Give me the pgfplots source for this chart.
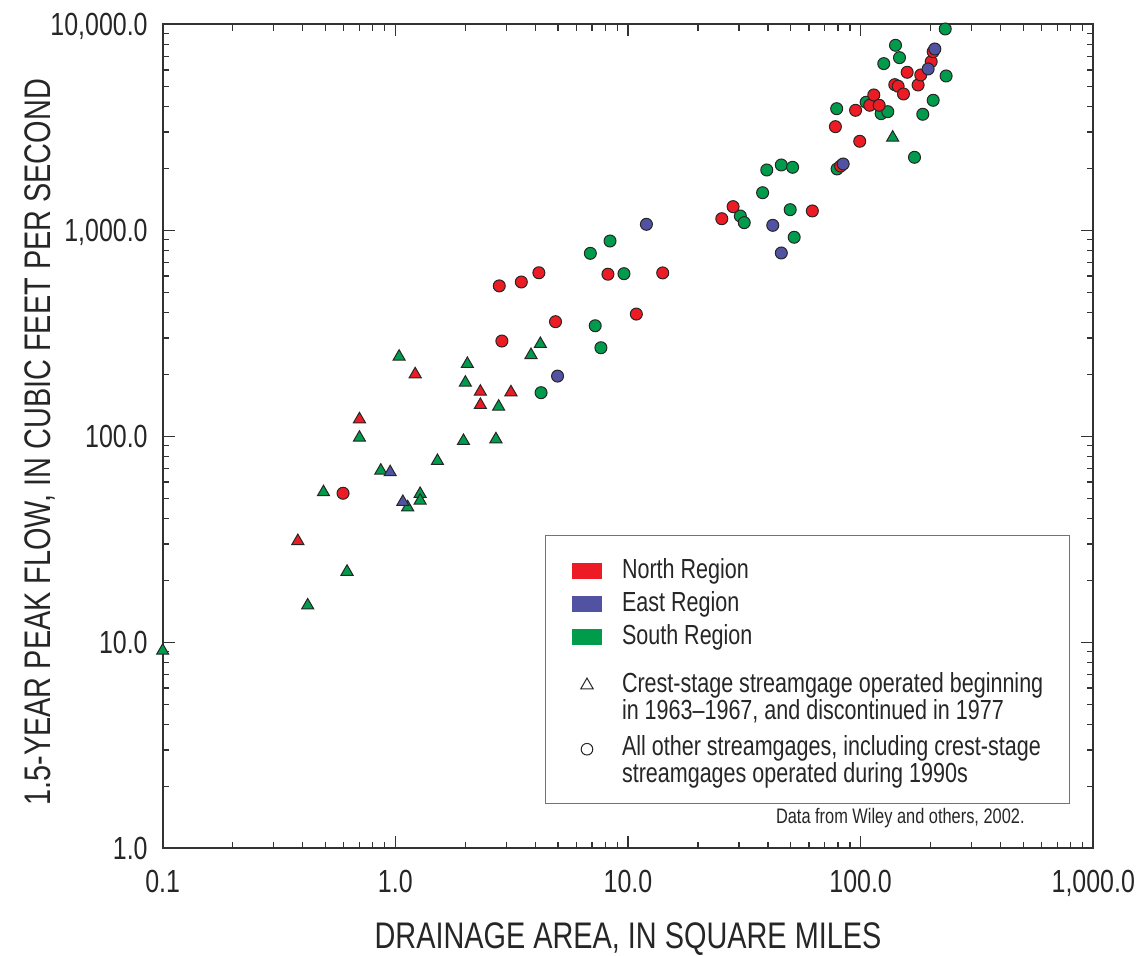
\documentclass[border=0pt]{standalone}
\usepackage{fontspec}
\setmainfont{Liberation Sans}[FakeStretch=0.78]
\usepackage{pgfplots}
\pgfplotsset{compat=1.18}

\definecolor{north}{RGB}{237,28,36}
\definecolor{east}{RGB}{82,82,162}
\definecolor{south}{RGB}{0,155,75}
\definecolor{axisgray}{RGB}{50,50,50}

\newcommand\tickfont{\fontsize{16}{18}\selectfont}
\newcommand\labfont{\fontsize{18.5}{22}\selectfont}
\newcommand\legfont{\fontsize{13.8}{13.5}\selectfont}

\pgfplotsset{
  circ/.style={only marks, mark=*, mark size=3pt,
    mark options={fill=#1, draw=black!85, line width=0.5pt}},
  tri/.style={only marks, mark=triangle*, mark size=3.5pt,
    mark options={fill=#1, draw=black!85, line width=0.5pt}},
}

\begin{document}
\begin{tikzpicture}
\begin{axis}[
  scale only axis, width=465.3pt, height=412pt,
  xmode=log, ymode=log,
  xmin=0.1, xmax=1000, ymin=1, ymax=10000,
  xtick={0.1,1,10,100,1000},
  xticklabels={0.1,1.0,10.0,100.0,{1,000.0}},
  ytick={1,10,100,1000,10000},
  yticklabels={1.0,10.0,100.0,{1,000.0},{10,000.0}},
  minor xtick={0.2,0.3,0.4,0.5,0.6,0.7,0.8,0.9,2,3,4,5,6,7,8,9,20,30,40,50,60,70,80,90,200,300,400,500,600,700,800,900},
  minor ytick={2,3,4,5,6,7,8,9,20,30,40,50,60,70,80,90,200,300,400,500,600,700,800,900,2000,3000,4000,5000,6000,7000,8000,9000},
  tick align=inside, major tick length=6pt, minor tick length=3.3pt,
  axis line style={axisgray, line width=1pt},
  every tick/.style={axisgray, line width=0.65pt},
  tick label style={font=\tickfont, text=black!85},
  xticklabel style={anchor=base, inner sep=0pt, yshift=-22.35pt},
  yticklabel style={anchor=base east, inner sep=0pt, xshift=-7.35pt, yshift=-5.73pt},
  label style={font=\labfont, text=black!85},
  xlabel={DRAINAGE AREA, IN SQUARE MILES},
  ylabel={1.5-YEAR PEAK FLOW, IN CUBIC FEET PER SECOND},
  xlabel style={at={(axis description cs:0.5,-0.1222)}, anchor=base, inner sep=0pt},
  ylabel style={at={(axis description cs:-0.1211,0.4927)}, anchor=base, inner sep=0pt},
  legend style={at={(0.4104,0.3807)}, anchor=north west, draw=black!55,
    line width=0.6pt, fill=white, inner xsep=13.3pt, inner ysep=6.5pt,
    row sep=2.6pt, column sep=10pt, font=\legfont, text=black!85,
    nodes={inner sep=0pt, text depth=}, cells={anchor=west, align=left}},
]
% legend entries
\addlegendimage{legend image code/.code={\fill[north] (0pt,-5.45pt) rectangle (14.5pt,1.85pt);}}
\addlegendentry{\rule{0pt}{15.05pt}North Region\strut}
\addlegendimage{legend image code/.code={\fill[east] (0pt,-2.65pt) rectangle (14.5pt,4.65pt);}}
\addlegendentry{East Region\strut}
\addlegendimage{legend image code/.code={\fill[south] (0pt,-2.65pt) rectangle (14.5pt,4.65pt);}}
\addlegendentry{South Region\strut}
\addlegendimage{only marks, mark=triangle, mark size=3.6pt,
  mark options={draw=black!85, line width=0.5pt, xshift=-1.25pt, yshift=3.8pt}}
\addlegendentry{\rule{0pt}{17.15pt}Crest-stage streamgage operated beginning\\in 1963--1967, and discontinued in 1977\strut}
\addlegendimage{only marks, mark=o, mark size=2.9pt,
  mark options={draw=black!85, line width=0.5pt, xshift=-1.25pt, yshift=6.3pt}}
\addlegendentry{\rule{0pt}{11.5pt}All other streamgages, including crest-stage\\streamgages operated during 1990s\strut}

% South Region
\addplot[tri=south] coordinates {
  (0.1,9.1) (0.420,15.1) (0.620,22.0) (0.491,53.5) (1.13,45.2)
  (1.278,52.5) (1.278,48.7) (0.701,98.4) (0.866,68.1) (1.517,75.9)
  (1.963,94.9) (2.706,96.7) (2.78,139.2) (2.00,182) (2.04,224.4)
  (1.038,243.4) (3.83,248) (4.20,280.6) (137.3,2817)
};
\addplot[circ=south] coordinates {
  (4.23,162.8) (7.65,269) (7.23,344) (6.89,773) (8.37,887) (9.61,615.6)
  (30.4,1173) (31.6,1089) (37.9,1522) (39.5,1962) (45.6,2075) (51.0,2022)
  (49.8,1259) (51.8,925) (79.2,1985) (78.9,3893) (105.6,4183) (122.5,3683)
  (130.8,3765) (125.7,6441) (141.2,7909) (146.9,6886) (185,3657)
  (170.4,2261) (205,4276) (233,5611) (231,9487)
};
% North Region
\addplot[tri=north] coordinates {
  (0.381,31.0) (0.701,120.9) (1.217,200) (2.32,164.6) (3.14,163.5) (2.32,141.9)
};
\addplot[circ=north] coordinates {
  (0.596,52.9) (2.87,290) (2.797,537) (3.48,561) (4.14,622) (8.2,612)
  (14.1,621) (10.86,392) (4.88,360) (25.3,1138) (28.3,1302) (62.0,1241)
  (82,2050) (77.9,3184) (99.1,2704) (95.1,3823) (109.4,4044) (113.9,4538)
  (120.1,4044) (140.2,5092) (144.9,5003) (152.8,4589) (158.5,5848)
  (176.6,5073) (181.3,5674) (201,6583) (205,7360)
};
% East Region
\addplot[tri=east] coordinates {
  (1.077,48.0) (0.950,66.9)
};
\addplot[circ=east] coordinates {
  (4.98,196) (12.0,1069) (41.9,1057) (45.6,776) (84.1,2098) (195,6068) (208.4,7588)
};

\node[anchor=base east, inner sep=0pt, text=black!85, font=\fontsize{10.5}{12}\selectfont]
  at (rel axis cs:0.9266,0.0301) {Data from Wiley and others, 2002.};
\end{axis}
\path (current axis.south west) ++(-81.35pt,-52.35pt) rectangle ++(570pt,476.5pt);
\end{tikzpicture}
\end{document}
